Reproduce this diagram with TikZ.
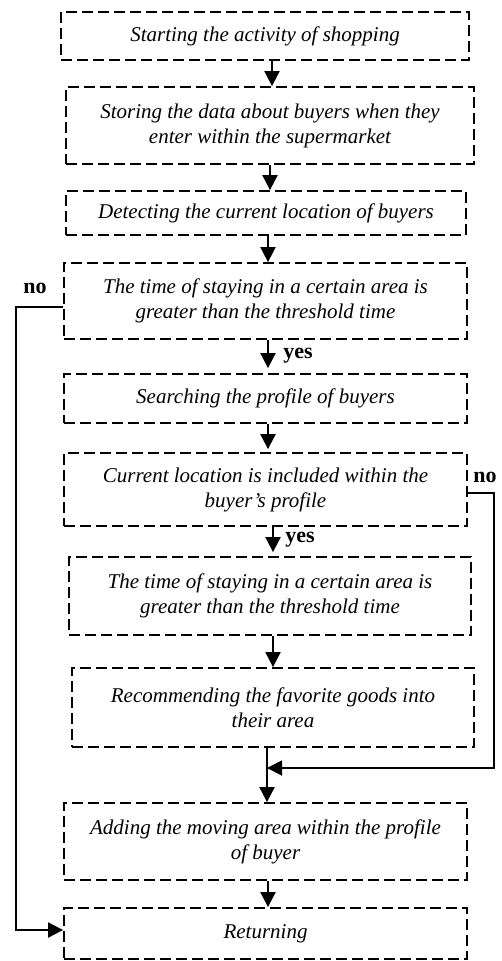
\documentclass[tikz,border=0pt]{standalone}
\usepackage{fontspec}
\setmainfont{Liberation Serif}
\usetikzlibrary{arrows.meta}
\begin{document}
\begin{tikzpicture}[x=1pt,y=-1pt,
  box/.style={draw, line width=1.8pt, dash pattern=on 11pt off 5pt, inner sep=0pt, align=center,
    font=\itshape\fontsize{21}{25}\selectfont},
  arr/.style={line width=1.9pt, -{Triangle[width=15pt,length=15pt]}},
  lbl/.style={font=\bfseries\fontsize{22}{26}\selectfont, inner sep=0pt}]
\useasboundingbox (0,0) rectangle (501,961);
\node[box, minimum width=408pt, minimum height=48pt] (b1) at (265,36) {Starting the activity of shopping};
\node[box, minimum width=408pt, minimum height=77pt] (b2) at (270,125.5) {Storing the data about buyers when they\\enter within the supermarket};
\node[box, minimum width=400pt, minimum height=44pt] (b3) at (266,213) {Detecting the current location of buyers};
\node[box, minimum width=403pt, minimum height=76pt] (b4) at (265.5,301) {The time of staying in a certain area is\\greater than the threshold time};
\node[box, minimum width=403pt, minimum height=49pt] (b5) at (265.5,398.5) {Searching the profile of buyers};
\node[box, minimum width=403pt, minimum height=73pt] (b6) at (265.5,489.5) {Current location is included within the\\buyer's profile};
\node[box, minimum width=402pt, minimum height=78pt] (b7) at (270,596) {The time of staying in a certain area is\\greater than the threshold time};
\node[box, minimum width=402pt, minimum height=79pt] (b8) at (273,707.5) {Recommending the favorite goods into\\their area};
\node[box, minimum width=403pt, minimum height=77pt] (b9) at (265.5,841.5) {Adding the moving area within the profile\\of buyer};
\node[box, minimum width=403pt, minimum height=51pt] (b10) at (265.5,933.5) {Returning};
% arrow x positions
\coordinate (x1) at (272,0);
\coordinate (x2) at (270,0);
\coordinate (x3) at (268,0);
\coordinate (x6) at (273,0);
\coordinate (x8) at (267,0);
\draw[arr] (b1.south -| x1) -- (b2.north -| x1);
\draw[arr] (b2.south -| x2) -- (b3.north -| x2);
\draw[arr] (b3.south -| x3) -- (b4.north -| x3);
\draw[arr, shorten >=5pt] (b4.south -| x3) -- (b5.north -| x3);
\draw[arr, shorten >=3pt] (b5.south -| x3) -- (b6.north -| x3);
\draw[arr, shorten >=4pt] (b6.south -| x6) -- (b7.north -| x6);
\draw[arr] (b7.south -| x6) -- (b8.north -| x6);
\draw[arr] (b8.south -| x8) -- (b9.north -| x8);
\draw[arr] (b9.south -| x3) -- (b10.north -| x3);
% no branches
\coordinate (nl1) at (16,307);
\coordinate (nl2) at (16,930);
\draw[arr] (b4.west |- nl1) -- (nl1) -- (nl2) -- (b10.west |- nl2);
\coordinate (nr1) at (494,493);
\coordinate (nr2) at (494,768);
\coordinate (nr3) at (267,768);
\draw[arr] (b6.east |- nr1) -- (nr1) -- (nr2) -- (nr3);
% labels
\node[lbl] (no1) at (35,288) {no};
\node[lbl] (no2) at (485,477) {no};
\node[lbl] (yes1) at (298,356) {yes};
\node[lbl] (yes2) at (300,540) {yes};
\end{tikzpicture}
\end{document}
